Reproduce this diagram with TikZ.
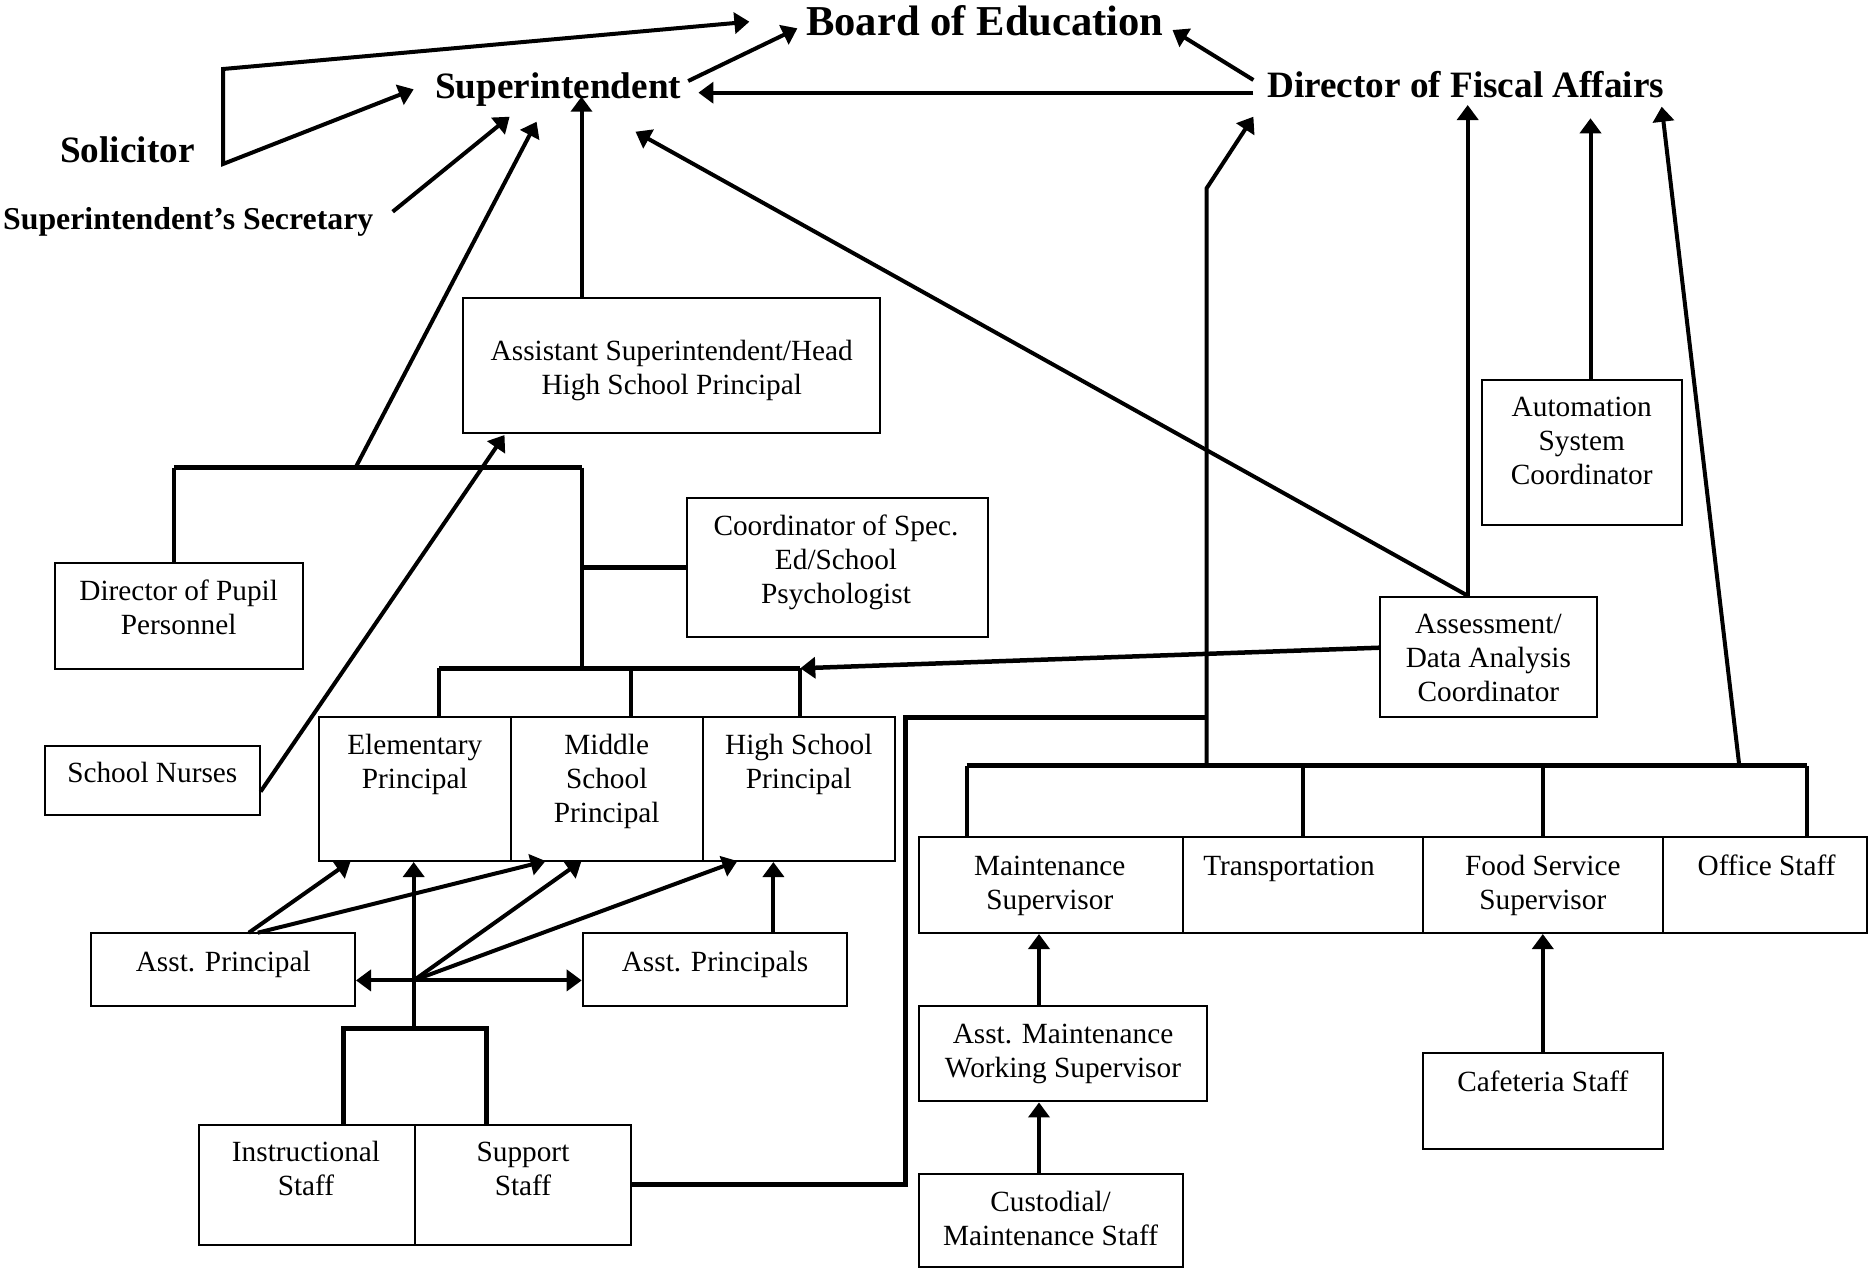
\documentclass[tikz,border=0pt]{standalone}
\usepackage{fontspec}
\setmainfont{Liberation Serif}
\usetikzlibrary{arrows.meta,fit}
\newcommand\ml[1]{\begin{tabular}[t]{@{}c@{}}#1\end{tabular}}
\begin{document}
\begin{tikzpicture}[x=1pt,y=-1pt,
  box/.style={draw, line width=2pt, inner sep=0pt},
  txt/.style={inner sep=0pt, anchor=base, font=\fontsize{29.3}{34}\selectfont},
  ttl/.style={inner sep=0pt, anchor=base west, font=\bfseries\fontsize{37.2}{44}\selectfont},
  conn/.style={line width=4pt},
  bar/.style={line width=5pt},
  tip/.tip={Triangle[length=15pt,width=21pt]},
  arr/.style={conn, -tip},
]
\useasboundingbox (0,0) rectangle (1869,1270);

% ---------- titles ----------
\node[ttl, font=\bfseries\fontsize{42.6}{50}\selectfont] (board) at (806,35) {Board of Education};
\node[ttl] (sup) at (435,98) {Superintendent};
\node[ttl] (dfa) at (1267,97) {Director of Fiscal Affairs};
\node[ttl] (sol) at (60,162) {Solicitor};
\node[ttl, font=\bfseries\fontsize{31.8}{38}\selectfont] (sec) at (3,229) {Superintendent’s Secretary};

% ---------- boxes ----------
\node[box, fit={(463.4,298.3) (880.1,433.3)}] (asup) {};
\node[txt] (asupt) at (671.8,360) {\ml{Assistant Superintendent/Head\\High School Principal}};
\node[box, fit={(54.6,563.3) (302.8,669)}] (dpp) {};
\node[txt] (dppt) at (178.7,600) {\ml{Director of Pupil\\Personnel}};
\node[box, fit={(686.5,498.3) (988,637.3)}] (csp) {};
\node[txt] (cspt) at (836,535) {\ml{Coordinator of Spec.\\Ed/School\\Psychologist}};
\node[box, fit={(1482,380) (1681.5,525)}] (auto) {};
\node[txt] (autot) at (1581.7,416.7) {\ml{Automation\\System\\Coordinator}};
\node[box, fit={(1380.3,596.7) (1596.5,716.7)}] (assess) {};
\node[txt] (assesst) at (1488.4,633) {\ml{Assessment/\\Data Analysis\\Coordinator}};
\node[box, fit={(45,746.2) (259.6,815)}] (nurse) {};
\node[txt] (nurset) at (152.3,782.5) {School Nurses};
\node[box, fit={(319,716.6) (510.8,861)}] (elem) {};
\node[txt] (elemt) at (414.8,754.7) {\ml{Elementary\\Principal}};
\node[box, fit={(510.8,716.6) (702.6,861)}] (mid) {};
\node[txt] (midt) at (606.7,754.7) {\ml{Middle\\School\\Principal}};
\node[box, fit={(702.6,716.6) (894.5,861)}] (hs) {};
\node[txt] (hst) at (798.8,754.7) {\ml{High School\\Principal}};
\node[box, fit={(91.1,932.7) (355,1005.6)}] (ap) {};
\node[txt] (apt) at (223.3,971) {Asst. Principal};
\node[box, fit={(582.7,932.7) (846.5,1005.6)}] (aps) {};
\node[txt] (apst) at (715,971) {Asst. Principals};
\node[box, fit={(199,1124.7) (414.9,1245)}] (instr) {};
\node[txt] (instrt) at (306,1161.7) {\ml{Instructional\\Staff}};
\node[box, fit={(414.9,1124.7) (631.3,1245)}] (supp) {};
\node[txt] (suppt) at (523,1161.7) {\ml{Support\\Staff}};
\node[box, fit={(918.5,836.9) (1183,933)}] (maint) {};
\node[txt] (maintt) at (1049.8,875) {\ml{Maintenance\\Supervisor}};
\node[box, fit={(1183,836.9) (1422.9,933)}] (trans) {};
\node[txt] (transt) at (1289,875) {Transportation};
\node[box, fit={(1422.9,836.9) (1662.7,933)}] (food) {};
\node[txt] (foodt) at (1542.8,875) {\ml{Food Service\\Supervisor}};
\node[box, fit={(1662.7,836.9) (1867,933)}] (office) {};
\node[txt] (officet) at (1766.6,875) {Office Staff};
\node[box, fit={(918.5,1005.6) (1207.2,1101.4)}] (amaint) {};
\node[txt] (amaintt) at (1063,1043.3) {\ml{Asst. Maintenance\\Working Supervisor}};
\node[box, fit={(918.5,1174) (1183,1267)}] (cust) {};
\node[txt] (custt) at (1050.6,1211.6) {\ml{Custodial/\\Maintenance Staff}};
\node[box, fit={(1422.9,1053.3) (1662.7,1149.1)}] (caf) {};
\node[txt] (caft) at (1542.8,1091.4) {Cafeteria Staff};

% ---------- coordinates ----------
\coordinate (solT) at (223,69);
\coordinate (solB) at (223,164);
\coordinate (tBoardSol) at (749.4,21.7);
\coordinate (tSupSol) at (413.7,89.3);
\coordinate (secR) at (392.7,211.7);
\coordinate (tSupSec) at (509.6,116.7);
\coordinate (supR) at (688.2,81);
\coordinate (tBoardSup) at (797.4,28.3);
\coordinate (dfaL1) at (1253.4,80);
\coordinate (tBoardDfa) at (1172.5,30);
\coordinate (dfaL2) at (1253.4,92.7);
\coordinate (tSupDfa) at (698.4,92.7);
\coordinate (tSupAsup) at (581.5,96.7);
\coordinate (tSupPup) at (536.6,121.7);
\coordinate (tSupAss) at (635.5,131.7);
\coordinate (tDfa1) at (1253.4,116.7);
\coordinate (tDfa2) at (1467.7,105);
\coordinate (tDfa3) at (1590.5,118.3);
\coordinate (tDfa4) at (1661.7,106.7);
\coordinate (pbL) at (173.9,467.7);
\coordinate (pbM) at (355.5,467.7);
\coordinate (pbR) at (581.5,467.7);
\coordinate (pb1) at (439.4,668.3);
\coordinate (pb2) at (631.3,668.3);
\coordinate (pb3) at (800.3,668.3);
\coordinate (tAsupN) at (504.5,435);
\coordinate (bv1) at (1206.6,765.8);
\coordinate (bv2) at (1206.6,188.3);
\coordinate (bvj) at (1206.6,717.7);
\coordinate (sl) at (905.3,717.7);
\coordinate (rb1) at (966.7,765.8);
\coordinate (rb2) at (1303,765.8);
\coordinate (rb3) at (1542.8,765.8);
\coordinate (rb4) at (1806.7,765.8);
\coordinate (rbS) at (1739.3,765.8);
\coordinate (apA) at (248.8,932.7);
\coordinate (apB) at (257.8,932.7);
\coordinate (tElem) at (350.7,861);
\coordinate (tMid1) at (545.6,861);
\coordinate (tMid2) at (581.5,861);
\coordinate (tHs) at (737.4,861);
\coordinate (hub) at (413.7,980.4);
\coordinate (sbM) at (413.7,1028.5);
\coordinate (sbL) at (343,1028.5);
\coordinate (sbR) at (486.8,1028.5);
\coordinate (apsX) at (773.4,932.7);
\coordinate (mX) at (1039,0);

% ---------- top connectors ----------
\draw[conn, tip-tip] (tBoardSol) -- (solT) -- (solB) -- (tSupSol);
\draw[arr] (secR) -- (tSupSec);
\draw[arr] (supR) -- (tBoardSup);
\draw[arr] (dfaL1) -- (tBoardDfa);
\draw[arr] (dfaL2) -- (tSupDfa);
\draw[arr] (asup.north -| tSupAsup) -- (tSupAsup);
\draw[arr] (pbM) -- (tSupPup);
\draw[arr] (assess.north -| tDfa2) -- (tSupAss);
\draw[arr] (assess.north -| tDfa2) -- (tDfa2);
\draw[arr] (auto.north -| tDfa3) -- (tDfa3);
\draw[arr] (rbS) -- (tDfa4);
\draw[arr] (bv1) -- (bv2) -- (tDfa1);

% ---------- left side ----------
\draw[conn] (dpp.north -| pbL) -- (pbL);
\draw[bar] (pbL) -- (pbR);
\draw[conn] (pbR) -- (pb3 -| pbR);
\draw[bar] (csp.west -| pbR) -- (csp.west);
\draw[bar] (pb1) -- (pb3);
\draw[conn] (pb1) -- (pb1 |- elem.north);
\draw[conn] (pb2) -- (pb2 |- mid.north);
\draw[conn] (pb3) -- (pb3 |- hs.north);
\draw[arr, line width=4.5pt] ([yshift=9pt]assess.west) -- (pb3);
\draw[arr] ([yshift=-11pt]nurse.east) -- (tAsupN);
\draw[arr] (apA) -- (tElem);
\draw[arr] (apB) -- (tMid1);
\draw[arr] (sbM) -- (sbM |- elem.south);
\draw[arr] (hub) -- (hub -| ap.east);
\draw[arr] (hub) -- (hub -| aps.west);
\draw[arr] (hub) -- (tMid2);
\draw[arr] (hub) -- (tHs);
\draw[bar] (instr.north -| sbL) -- (sbL) -- (sbR) -- (supp.north -| sbR);
\draw[arr] (apsX) -- (apsX |- hs.south);

% ---------- right side ----------
\draw[bar] (supp.east) -- (supp.east -| sl) -- (sl) -- (bvj);
\draw[bar] (rb1) -- (rb4);
\draw[conn] (rb1) -- (rb1 |- maint.north);
\draw[conn] (rb2) -- (rb2 |- trans.north);
\draw[conn] (rb3) -- (rb3 |- food.north);
\draw[conn] (rb4) -- (rb4 |- office.north);
\draw[arr] (amaint.north -| mX) -- (maint.south -| mX);
\draw[arr] (cust.north -| mX) -- (amaint.south -| mX);
\draw[arr] (caf.north) -- (food.south);
\end{tikzpicture}
\end{document}
